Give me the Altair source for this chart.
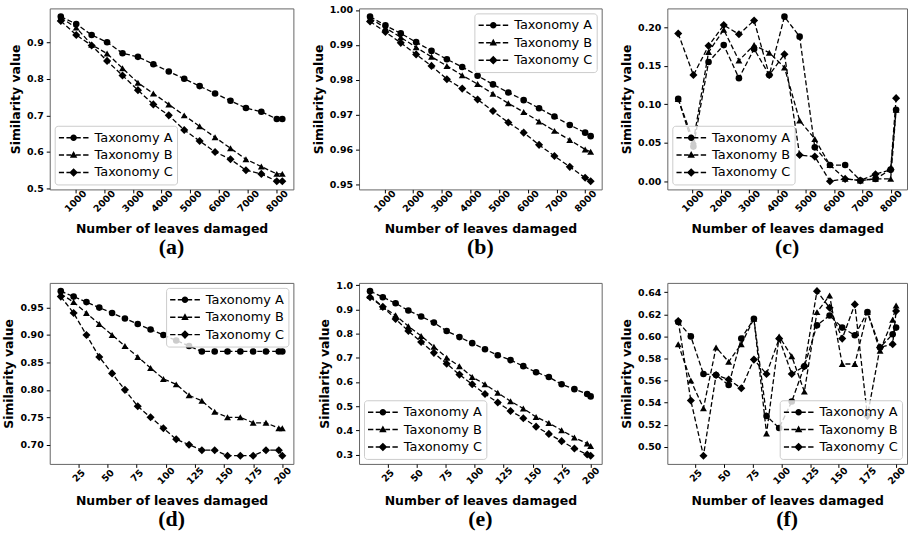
import altair as alt
import pandas as pd

SERIES = ["Taxonomy A", "Taxonomy B", "Taxonomy C"]

x_top = [500, 1036, 1571, 2107, 2643, 3179, 3714, 4250, 4786, 5321, 5857, 6393, 6929, 7464, 8000, 8192]
x_bot = [10, 21, 32, 43, 54, 65, 76, 87, 98, 109, 120, 131, 142, 153, 164, 175, 186, 197, 200]
ticks_top = [1000, 2000, 3000, 4000, 5000, 6000, 7000, 8000]
ticks_bot = [25, 50, 75, 100, 125, 150, 175, 200]

a_A = [0.97, 0.95, 0.92, 0.90, 0.87, 0.86, 0.84, 0.82, 0.80, 0.78, 0.76, 0.74, 0.72, 0.71, 0.69, 0.69]
a_B = [0.967, 0.94, 0.893, 0.869, 0.829, 0.789, 0.76, 0.73, 0.70, 0.67, 0.64, 0.61, 0.58, 0.56, 0.54, 0.54]
a_C = [0.958, 0.92, 0.891, 0.849, 0.809, 0.769, 0.73, 0.70, 0.66, 0.63, 0.60, 0.58, 0.55, 0.54, 0.52, 0.52]

b_A = [0.9981, 0.9956, 0.9933, 0.9908, 0.9883, 0.9859, 0.9837, 0.9812, 0.9787, 0.9764, 0.9742, 0.9719, 0.9695, 0.9671, 0.9649, 0.9639]
b_B = [0.9976, 0.9949, 0.9922, 0.9893, 0.9866, 0.9840, 0.9813, 0.9788, 0.9760, 0.9733, 0.9708, 0.9681, 0.9654, 0.9628, 0.9601, 0.9594]
b_C = [0.9967, 0.9937, 0.9906, 0.9873, 0.9840, 0.9802, 0.9775, 0.9744, 0.9711, 0.9678, 0.9649, 0.9614, 0.9582, 0.9551, 0.9520, 0.9510]

c_A = [0.107, 0.045, 0.155, 0.177, 0.134, 0.172, 0.138, 0.214, 0.188, 0.044, 0.021, 0.021, 0.001, 0.003, 0.015, 0.093]
c_B = [0.107, 0.052, 0.168, 0.197, 0.157, 0.177, 0.167, 0.148, 0.079, 0.055, 0.021, 0.003, 0.001, 0.003, 0.003, 0.093]
c_C = [0.192, 0.138, 0.176, 0.203, 0.191, 0.209, 0.138, 0.165, 0.034, 0.032, 0.000, 0.003, 0.001, 0.009, 0.015, 0.108]

d_A = [0.98, 0.97, 0.96, 0.95, 0.94, 0.93, 0.92, 0.91, 0.90, 0.89, 0.88, 0.87, 0.87, 0.87, 0.87, 0.87, 0.87, 0.87, 0.87]
d_B = [0.975, 0.96, 0.94, 0.92, 0.90, 0.88, 0.86, 0.84, 0.82, 0.81, 0.79, 0.78, 0.76, 0.75, 0.75, 0.74, 0.74, 0.73, 0.73]
d_C = [0.97, 0.94, 0.90, 0.86, 0.83, 0.80, 0.77, 0.75, 0.73, 0.71, 0.70, 0.69, 0.69, 0.68, 0.68, 0.68, 0.69, 0.69, 0.68]

e_A = [0.975, 0.95, 0.925, 0.895, 0.87, 0.845, 0.81, 0.785, 0.76, 0.735, 0.71, 0.69, 0.665, 0.64, 0.62, 0.59, 0.57, 0.55, 0.54]
e_B = [0.955, 0.91, 0.875, 0.83, 0.79, 0.745, 0.70, 0.665, 0.62, 0.59, 0.555, 0.52, 0.49, 0.455, 0.43, 0.40, 0.37, 0.345, 0.335]
e_C = [0.95, 0.91, 0.86, 0.81, 0.765, 0.72, 0.675, 0.63, 0.59, 0.55, 0.515, 0.48, 0.45, 0.415, 0.385, 0.355, 0.325, 0.30, 0.295]

f_A = [0.613, 0.600, 0.566, 0.565, 0.556, 0.598, 0.616, 0.528, 0.517, 0.541, 0.573, 0.610, 0.619, 0.608, 0.601, 0.622, 0.590, 0.602, 0.608]
f_B = [0.593, 0.560, 0.535, 0.590, 0.577, 0.593, 0.616, 0.512, 0.600, 0.582, 0.550, 0.622, 0.637, 0.575, 0.575, 0.622, 0.587, 0.615, 0.628]
f_C = [0.614, 0.542, 0.492, 0.565, 0.561, 0.553, 0.579, 0.566, 0.598, 0.566, 0.573, 0.641, 0.626, 0.598, 0.629, 0.528, 0.590, 0.593, 0.623]

yt_a = [0.5, 0.6, 0.7, 0.8, 0.9]
yt_b = [0.95, 0.96, 0.97, 0.98, 0.99, 1.00]
yt_c = [0.0, 0.05, 0.10, 0.15, 0.20]
yt_d = [0.70, 0.75, 0.80, 0.85, 0.90, 0.95]
yt_e = [0.3, 0.4, 0.5, 0.6, 0.7, 0.8, 0.9, 1.0]
yt_f = [0.50, 0.52, 0.54, 0.56, 0.58, 0.60, 0.62, 0.64]

MARKERS = [("circle", 44), ("triangle-up", 48), ("diamond", 66)]


def dash_rect(x0, x1, h=0.05):
    return f"M{x0},{-h}H{x1}V{h}H{x0}Z"


DASH = dash_rect(-1, -0.64) + dash_rect(-0.48, -0.16) + dash_rect(0.16, 0.48) + dash_rect(0.64, 1)
LEG_PATHS = [
    DASH + "M0.22,0A0.22,0.22,0,1,1,-0.22,0A0.22,0.22,0,1,1,0.22,0Z",
    DASH + "M0,-0.27L0.25,0.18L-0.25,0.18Z",
    DASH + "M0,-0.29L0.29,0L0,0.29L-0.29,0Z",
]


def make_panel(x, ys, xticks, yticks, yfmt, legend_orient, caption, width, height):
    rows = []
    for name, vals in zip(SERIES, ys):
        for xv, yv in zip(x, vals):
            rows.append({"x": xv, "y": yv, "series": name})
    df = pd.DataFrame(rows)
    xmin, xmax = min(x), max(x)
    xp = 0.05 * (xmax - xmin)
    allv = [v for s in ys for v in s]
    ymin, ymax = min(allv), max(allv)
    yp = 0.05 * (ymax - ymin)
    xenc = alt.X("x:Q", scale=alt.Scale(domain=[xmin - xp, xmax + xp], nice=False, zero=False),
                 axis=alt.Axis(values=xticks, format="d", title="Number of leaves damaged",
                               labelAngle=-45, labelAlign="center", labelBaseline="middle",
                               labelPadding=8))
    yenc = alt.Y("y:Q", scale=alt.Scale(domain=[ymin - yp, ymax + yp], nice=False, zero=False),
                 axis=alt.Axis(values=yticks, format=yfmt, title="Similarity value"))
    base = alt.Chart(df)
    layers = [base.mark_line(color="black", strokeDash=[5, 2.5], strokeWidth=1.3).encode(
        x=xenc, y=yenc, detail="series:N")]
    for name, (shp, sz) in zip(SERIES, MARKERS):
        layers.append(base.transform_filter(alt.datum.series == name).mark_point(
            filled=True, color="black", opacity=1, shape=shp, size=sz).encode(x=xenc, y=yenc))
    layers.append(base.transform_filter("false").mark_point(
        filled=True, color="black", opacity=1).encode(
        shape=alt.Shape("series:N", scale=alt.Scale(domain=SERIES, range=LEG_PATHS),
                        legend=alt.Legend(orient=legend_orient, title=None, offset=5,
                                          symbolSize=900, symbolStrokeWidth=0,
                                          symbolFillColor="black",
                                          symbolOpacity=1, clipHeight=16, rowPadding=1.5,
                                          labelOffset=6, padding=4))))
    return alt.layer(*layers).properties(
        width=width, height=height,
        title=alt.TitleParams(caption, orient="bottom", anchor="middle", frame="group", offset=2))


W1, W2, W3, H = 245, 244, 241, 182
pa = make_panel(x_top, [a_A, a_B, a_C], ticks_top, yt_a, ".1f", "bottom-left", "(a)", W1, H)
pb = make_panel(x_top, [b_A, b_B, b_C], ticks_top, yt_b, ".2f", "top-right", "(b)", W2, H)
pc = make_panel(x_top, [c_A, c_B, c_C], ticks_top, yt_c, ".2f", "bottom-left", "(c)", W3, H)
pd_ = make_panel(x_bot, [d_A, d_B, d_C], ticks_bot, yt_d, ".2f", "top-right", "(d)", W1, H)
pe = make_panel(x_bot, [e_A, e_B, e_C], ticks_bot, yt_e, ".1f", "bottom-left", "(e)", W2, H)
pf = make_panel(x_bot, [f_A, f_B, f_C], ticks_bot, yt_f, ".2f", "bottom-right", "(f)", W3, H)

chart = alt.concat(pa, pb, pc, pd_, pe, pf, columns=3, bounds="flush",
                   spacing=alt.RowColnumber(row=94, column=66)).properties(
    padding={"left": 2, "top": 3, "right": 0, "bottom": 0},
    background="white",
).configure_view(stroke="#666666", strokeWidth=1).configure_axis(
    labelFont="DejaVu Sans", labelFontWeight="bold", labelFontSize=9.5, labelColor="black",
    titleFont="DejaVu Sans", titleFontWeight="bold", titleFontSize=12.5, titleColor="black",
    tickColor="black", tickSize=3.5, domain=False, grid=False,
).configure_axisY(labelPadding=3, titlePadding=4).configure_axisX(titlePadding=9).configure_legend(
    labelFont="DejaVu Sans", labelFontSize=13, labelColor="black",
    fillColor="rgba(255,255,255,0.8)", strokeColor="#cccccc", cornerRadius=3, strokeWidth=1,
).configure_title(font="Liberation Serif", fontSize=22, fontWeight="bold", color="black")

chart.save("out.html", embed_options={"renderer": "svg", "actions": False})
